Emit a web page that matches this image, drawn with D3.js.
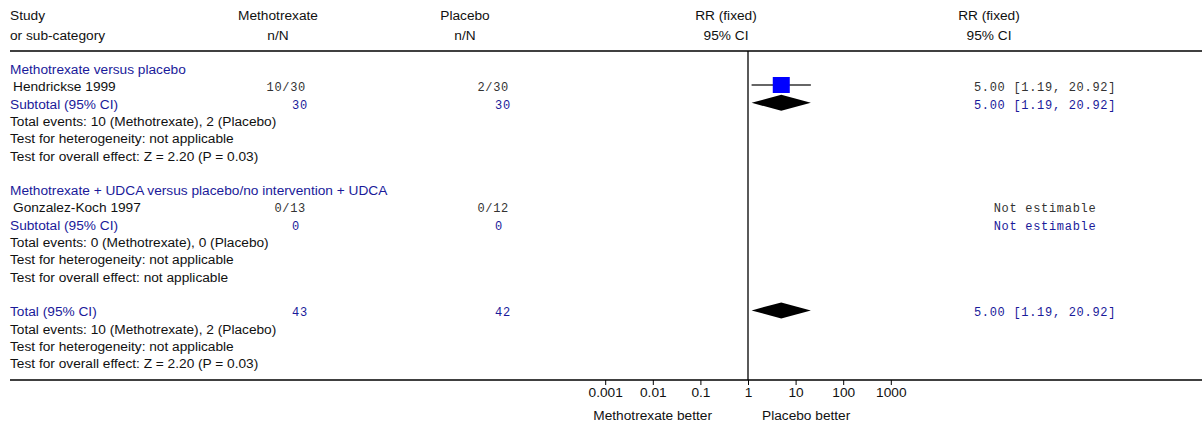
<!DOCTYPE html>
<html>
<head>
<meta charset="utf-8">
<script src="https://cdn.jsdelivr.net/npm/d3@7"></script>
<style>
  html, body { margin: 0; padding: 0; background: #fff; }
  svg { display: block; }
  .sans { font-family: "Liberation Sans", Arial, sans-serif; font-size: 13.7px; }
  .mono { font-family: "Liberation Mono", "Courier New", monospace; font-size: 12px; letter-spacing: 0.7px; }
</style>
</head>
<body>
<svg id="chart" width="1202" height="425"></svg>
<script>
// ---------- data ----------
const headerLeft = ["Study", "or sub-category"];
const headerCol1 = ["Methotrexate", "n/N"];
const headerCol2 = ["Placebo", "n/N"];
const headerPlot = ["RR (fixed)", "95% CI"];
const headerRR = ["RR (fixed)", "95% CI"];

// row labels (one per row, 18 rows)
const rowLabels = [
  "Methotrexate versus placebo",
  " Hendrickse 1999",
  "Subtotal (95% CI)",
  "Total events: 10 (Methotrexate), 2 (Placebo)",
  "Test for heterogeneity: not applicable",
  "Test for overall effect: Z = 2.20 (P = 0.03)",
  "",
  "Methotrexate + UDCA versus placebo/no intervention + UDCA",
  " Gonzalez-Koch 1997",
  "Subtotal (95% CI)",
  "Total events: 0 (Methotrexate), 0 (Placebo)",
  "Test for heterogeneity: not applicable",
  "Test for overall effect: not applicable",
  "",
  "Total (95% CI)",
  "Total events: 10 (Methotrexate), 2 (Placebo)",
  "Test for heterogeneity: not applicable",
  "Test for overall effect: Z = 2.20 (P = 0.03)"
];
const rowKinds = ["group","study","subtotal","info","info","info","blank",
                  "group","study","subtotal","info","info","info","blank",
                  "total","info","info","info"];

// studies
const studyRows = [1, 8];
const treatEvents = ["10/30", "0/13"];
const ctrlEvents = ["2/30", "0/12"];
const studyRR = [5.00, null];
const studyLo = [1.19, null];
const studyHi = [20.92, null];
const studyText = ["5.00 [1.19, 20.92]", "Not estimable"];

// subtotals & total
const pooledRows = [2, 9, 14];
const pooledTreatN = ["30", "0", "43"];
const pooledCtrlN = ["30", "0", "42"];
const pooledRR = [5.00, null, 5.00];
const pooledLo = [1.19, null, 1.19];
const pooledHi = [20.92, null, 20.92];
const pooledText = ["5.00 [1.19, 20.92]", "Not estimable", "5.00 [1.19, 20.92]"];

// axis
const tickValues = [0.001, 0.01, 0.1, 1, 10, 100, 1000];
const tickLabels = ["0.001", "0.01", "0.1", "1", "10", "100", "1000"];
const favourLeft = "Methotrexate better";
const favourRight = "Placebo better";

// ---------- layout ----------
const W = 1202;
const blue = "#1a1a9a";
const svg = d3.select("#chart");

const x = d3.scaleLog().domain([0.001, 1000]).range([605.2, 890.8]);
const yRow = d3.scaleLinear().domain([0, 17]).range([74, 368.1]);
const topLineY = 51, axisY = 380;

const col1Right = 306, col2Right = 509, rrCenter = 1045;

// headers
[[headerLeft, 10, "start"], [headerCol1, 278, "middle"], [headerCol2, 465, "middle"],
 [headerPlot, 726, "middle"], [headerRR, 989, "middle"]].forEach(([lines, hx, anchor]) => {
  lines.forEach((t, i) => {
    svg.append("text").attr("class", "sans").attr("x", hx).attr("y", 20 + i * 19.5)
      .attr("text-anchor", anchor).attr("fill", "#111").text(t);
  });
});

// lines
svg.append("line").attr("x1", 10).attr("x2", W).attr("y1", topLineY).attr("y2", topLineY)
  .attr("stroke", "#000").attr("stroke-width", 1.3);
svg.append("line").attr("x1", x(1)).attr("x2", x(1)).attr("y1", topLineY).attr("y2", axisY)
  .attr("stroke", "#000").attr("stroke-width", 1.3);

// row labels
rowLabels.forEach((t, i) => {
  if (!t) return;
  const k = rowKinds[i];
  const isBlue = (k === "group" || k === "subtotal" || k === "total");
  svg.append("text").attr("class", "sans")
    .attr("x", k === "study" ? 13 : 10).attr("y", yRow(i))
    .attr("fill", isBlue ? blue : "#111")
    .text(t.trim());
});

// study rows
studyRows.forEach((r, i) => {
  const yy = yRow(r);
  svg.append("text").attr("class", "mono").attr("x", col1Right).attr("y", yy)
    .attr("text-anchor", "end").attr("fill", "#333").text(treatEvents[i]);
  svg.append("text").attr("class", "mono").attr("x", col2Right).attr("y", yy)
    .attr("text-anchor", "end").attr("fill", "#333").text(ctrlEvents[i]);
  svg.append("text").attr("class", "mono").attr("x", rrCenter).attr("y", yy)
    .attr("text-anchor", "middle").attr("fill", "#333").text(studyText[i]);
  if (studyRR[i] != null) {
    const cy = yy - 6.3;
    svg.append("line").attr("x1", x(studyLo[i])).attr("x2", x(studyHi[i]))
      .attr("y1", cy).attr("y2", cy).attr("stroke", "#333").attr("stroke-width", 1.3);
    const s = 17;
    svg.append("rect").attr("x", x(studyRR[i]) - s / 2).attr("y", cy - s / 2 + 0.5)
      .attr("width", s).attr("height", s - 1).attr("fill", "#0000ff");
  }
});

// pooled rows
pooledRows.forEach((r, i) => {
  const yy = yRow(r);
  svg.append("text").attr("class", "mono").attr("x", col1Right - 14).attr("y", yy)
    .attr("text-anchor", "start").attr("fill", blue).text(pooledTreatN[i]);
  svg.append("text").attr("class", "mono").attr("x", col2Right - 14).attr("y", yy)
    .attr("text-anchor", "start").attr("fill", blue).text(pooledCtrlN[i]);
  svg.append("text").attr("class", "mono").attr("x", rrCenter).attr("y", yy)
    .attr("text-anchor", "middle").attr("fill", blue).text(pooledText[i]);
  if (pooledRR[i] != null) {
    const cy = yy - 5.8, h = 8;
    const pts = [[x(pooledLo[i]), cy], [x(pooledRR[i]), cy - h], [x(pooledHi[i]), cy], [x(pooledRR[i]), cy + h]];
    svg.append("path").attr("d", d3.line()(pts) + "Z").attr("fill", "#000");
  }
});

// axis
svg.append("line").attr("x1", 10).attr("x2", W).attr("y1", axisY).attr("y2", axisY)
  .attr("stroke", "#000").attr("stroke-width", 1.3);
const axis = d3.axisBottom(x).tickValues(tickValues)
  .tickFormat((d, i) => tickLabels[i]).tickSize(5).tickSizeOuter(0);
const ag = svg.append("g").attr("transform", `translate(0,${axisY})`).call(axis);
ag.select(".domain").remove();
ag.selectAll("text").attr("class", "sans").attr("font-size", null).attr("font-family", null)
  .attr("fill", "#111").attr("dy", null).attr("y", 17);
ag.selectAll(".tick line").attr("stroke", "#000");

svg.append("text").attr("class", "sans").attr("x", 712).attr("y", 420)
  .attr("text-anchor", "end").attr("fill", "#111").text(favourLeft);
svg.append("text").attr("class", "sans").attr("x", 762).attr("y", 420)
  .attr("text-anchor", "start").attr("fill", "#111").text(favourRight);
</script>
</body>
</html>
